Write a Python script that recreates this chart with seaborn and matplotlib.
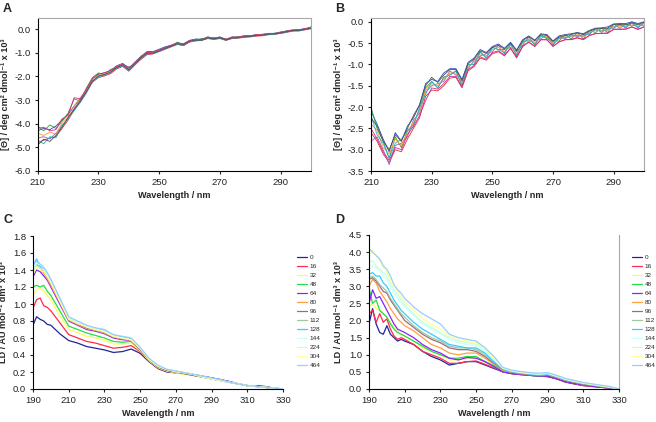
import matplotlib
matplotlib.use("Agg")
import matplotlib.pyplot as plt
import seaborn as sns
import pandas as pd

# ---------------- data ----------------
wl_ab = list(range(210, 301, 2))

A1 = [-4.30,-4.20,-4.25,-4.10,-3.85,-3.60,-3.25,-2.95,-2.55,-2.10,-1.90,-1.85,-1.75,-1.55,-1.45,-1.65,-1.40,-1.15,-0.95,-0.95,-0.85,-0.75,-0.68,-0.58,-0.62,-0.48,-0.42,-0.43,-0.33,-0.38,-0.33,-0.43,-0.33,-0.33,-0.28,-0.28,-0.23,-0.22,-0.18,-0.18,-0.12,-0.08,-0.03,-0.02,0.02,0.08]
A2 = [-4.80,-4.70,-4.60,-4.55,-4.20,-3.85,-3.40,-3.10,-2.70,-2.25,-2.05,-1.98,-1.88,-1.68,-1.58,-1.78,-1.52,-1.28,-1.08,-1.05,-0.95,-0.85,-0.75,-0.65,-0.70,-0.55,-0.50,-0.48,-0.40,-0.44,-0.40,-0.48,-0.40,-0.38,-0.35,-0.33,-0.30,-0.28,-0.24,-0.22,-0.18,-0.14,-0.08,-0.08,-0.03,0.02]
A3 = [-4.10,-4.30,-4.05,-4.20,-3.90,-3.55,-2.95,-3.05,-2.50,-2.05,-1.85,-1.95,-1.70,-1.65,-1.50,-1.60,-1.50,-1.15,-1.05,-0.95,-0.92,-0.78,-0.72,-0.55,-0.68,-0.47,-0.48,-0.40,-0.38,-0.37,-0.38,-0.42,-0.37,-0.32,-0.32,-0.27,-0.27,-0.22,-0.22,-0.17,-0.17,-0.07,-0.08,-0.02,-0.02,0.10]
A4 = [-4.60,-4.55,-4.65,-4.40,-4.10,-3.75,-3.35,-3.00,-2.65,-2.20,-2.00,-1.92,-1.85,-1.62,-1.55,-1.75,-1.48,-1.25,-1.02,-1.02,-0.92,-0.82,-0.72,-0.62,-0.66,-0.52,-0.46,-0.47,-0.36,-0.42,-0.36,-0.46,-0.37,-0.36,-0.31,-0.31,-0.26,-0.26,-0.21,-0.21,-0.16,-0.11,-0.06,-0.06,-0.01,0.04]
A5 = [-4.40,-4.50,-4.35,-4.45,-3.95,-3.70,-3.25,-2.90,-2.60,-2.10,-1.95,-1.88,-1.78,-1.58,-1.48,-1.72,-1.43,-1.18,-0.98,-1.00,-0.88,-0.80,-0.70,-0.60,-0.64,-0.50,-0.44,-0.45,-0.34,-0.40,-0.34,-0.45,-0.34,-0.35,-0.30,-0.30,-0.24,-0.25,-0.19,-0.20,-0.14,-0.10,-0.04,-0.05,0.01,0.05]
A6 = [-4.70,-4.85,-4.55,-4.60,-4.05,-3.80,-3.45,-3.10,-2.70,-2.20,-2.02,-1.95,-1.82,-1.64,-1.55,-1.74,-1.50,-1.25,-1.05,-1.02,-0.94,-0.83,-0.73,-0.63,-0.68,-0.53,-0.47,-0.47,-0.38,-0.42,-0.37,-0.47,-0.37,-0.37,-0.33,-0.32,-0.27,-0.27,-0.22,-0.22,-0.17,-0.12,-0.07,-0.07,-0.02,0.02]
A7 = [-4.20,-4.15,-4.30,-4.25,-3.80,-3.65,-2.90,-2.95,-2.55,-2.10,-1.90,-1.85,-1.75,-1.58,-1.48,-1.66,-1.42,-1.18,-0.98,-0.98,-0.88,-0.78,-0.68,-0.58,-0.63,-0.49,-0.43,-0.44,-0.34,-0.39,-0.34,-0.44,-0.34,-0.34,-0.29,-0.29,-0.24,-0.24,-0.19,-0.19,-0.14,-0.09,-0.04,-0.04,0.02,0.06]
A8 = [-4.90,-4.65,-4.75,-4.50,-4.15,-3.75,-3.40,-3.05,-2.65,-2.20,-1.98,-1.92,-1.82,-1.62,-1.52,-1.72,-1.47,-1.22,-1.02,-1.02,-0.92,-0.82,-0.72,-0.62,-0.67,-0.52,-0.47,-0.47,-0.37,-0.41,-0.37,-0.46,-0.37,-0.37,-0.32,-0.31,-0.26,-0.26,-0.21,-0.21,-0.16,-0.11,-0.06,-0.06,-0.01,0.03]

B1 = [-2.10,-2.40,-2.75,-3.05,-2.60,-2.80,-2.45,-2.25,-1.95,-1.45,-1.35,-1.40,-1.20,-1.10,-1.10,-1.35,-0.95,-0.85,-0.65,-0.72,-0.58,-0.52,-0.62,-0.48,-0.66,-0.42,-0.33,-0.43,-0.28,-0.30,-0.45,-0.33,-0.30,-0.28,-0.25,-0.28,-0.20,-0.15,-0.14,-0.12,-0.05,-0.04,-0.04,0.00,-0.04,0.00]
B2 = [-2.60,-2.80,-3.10,-3.30,-3.00,-3.05,-2.75,-2.50,-2.25,-1.75,-1.60,-1.62,-1.50,-1.32,-1.30,-1.55,-1.15,-1.05,-0.85,-0.90,-0.75,-0.70,-0.80,-0.62,-0.85,-0.58,-0.48,-0.58,-0.42,-0.42,-0.58,-0.47,-0.42,-0.42,-0.38,-0.42,-0.32,-0.28,-0.27,-0.27,-0.18,-0.18,-0.17,-0.12,-0.18,-0.12]
B3 = [-2.00,-2.50,-2.80,-3.20,-2.70,-2.95,-2.55,-2.40,-2.05,-1.55,-1.40,-1.55,-1.30,-1.25,-1.15,-1.50,-1.00,-1.00,-0.70,-0.85,-0.60,-0.65,-0.65,-0.60,-0.70,-0.55,-0.35,-0.55,-0.30,-0.40,-0.45,-0.45,-0.30,-0.40,-0.25,-0.40,-0.20,-0.25,-0.15,-0.25,-0.05,-0.15,-0.05,-0.10,-0.05,-0.10]
B4 = [-2.80,-2.70,-3.00,-3.35,-2.90,-2.85,-2.70,-2.30,-2.15,-1.65,-1.50,-1.45,-1.40,-1.15,-1.25,-1.40,-1.10,-0.90,-0.80,-0.75,-0.70,-0.55,-0.75,-0.50,-0.80,-0.45,-0.45,-0.45,-0.40,-0.30,-0.55,-0.35,-0.40,-0.30,-0.35,-0.30,-0.30,-0.15,-0.25,-0.15,-0.15,-0.05,-0.15,0.00,-0.15,0.00]
B5 = [-2.40,-2.55,-2.95,-3.10,-2.75,-2.90,-2.60,-2.35,-2.10,-1.60,-1.45,-1.50,-1.35,-1.20,-1.20,-1.45,-1.05,-0.95,-0.75,-0.80,-0.65,-0.60,-0.70,-0.55,-0.75,-0.50,-0.40,-0.50,-0.35,-0.35,-0.50,-0.40,-0.35,-0.35,-0.30,-0.35,-0.25,-0.20,-0.20,-0.20,-0.10,-0.10,-0.10,-0.05,-0.10,-0.05]
B6 = [-2.20,-2.65,-2.85,-3.20,-2.85,-2.75,-2.55,-2.45,-2.00,-1.70,-1.40,-1.55,-1.30,-1.25,-1.15,-1.50,-1.00,-1.00,-0.70,-0.85,-0.60,-0.65,-0.72,-0.52,-0.78,-0.47,-0.42,-0.52,-0.33,-0.37,-0.52,-0.38,-0.37,-0.33,-0.32,-0.33,-0.27,-0.18,-0.22,-0.18,-0.12,-0.08,-0.12,-0.03,-0.12,-0.03]
B7 = [-2.50,-2.75,-3.05,-3.25,-2.95,-3.00,-2.65,-2.45,-2.20,-1.85,-1.55,-1.58,-1.45,-1.28,-1.28,-1.52,-1.12,-1.02,-0.82,-0.88,-0.72,-0.68,-0.78,-0.62,-0.82,-0.57,-0.47,-0.57,-0.42,-0.42,-0.57,-0.47,-0.42,-0.41,-0.37,-0.41,-0.32,-0.27,-0.27,-0.26,-0.17,-0.17,-0.17,-0.12,-0.17,-0.12]
B8 = [-2.25,-2.45,-2.80,-3.00,-2.65,-2.80,-2.50,-2.20,-1.95,-1.50,-1.30,-1.42,-1.25,-1.12,-1.12,-1.38,-0.98,-0.88,-0.68,-0.74,-0.60,-0.55,-0.64,-0.50,-0.68,-0.44,-0.35,-0.44,-0.30,-0.32,-0.46,-0.36,-0.32,-0.30,-0.26,-0.30,-0.22,-0.16,-0.16,-0.15,-0.06,-0.06,-0.07,-0.02,-0.06,-0.01]

wl_c = [190,192,194,196,198,200,205,210,215,220,225,230,235,240,245,250,255,260,265,270,275,280,285,290,295,300,305,310,315,320,325,330]
C0   = [0.75,0.85,0.82,0.80,0.76,0.75,0.65,0.57,0.54,0.50,0.48,0.46,0.43,0.44,0.47,0.42,0.32,0.24,0.20,0.19,0.18,0.17,0.15,0.13,0.11,0.08,0.06,0.04,0.04,0.03,0.01,0.0]
C16  = [0.95,1.05,1.07,0.98,0.96,0.92,0.78,0.64,0.60,0.56,0.54,0.51,0.48,0.49,0.51,0.44,0.33,0.25,0.21,0.19,0.18,0.16,0.14,0.12,0.10,0.08,0.06,0.04,0.03,0.02,0.01,0.0]
C32  = [1.10,1.17,1.18,1.15,1.10,1.05,0.86,0.70,0.66,0.62,0.60,0.57,0.53,0.53,0.54,0.45,0.33,0.25,0.21,0.19,0.17,0.16,0.14,0.12,0.10,0.08,0.06,0.04,0.03,0.02,0.01,0.0]
C48  = [1.20,1.22,1.20,1.22,1.15,1.10,0.92,0.74,0.70,0.66,0.63,0.60,0.56,0.55,0.56,0.46,0.34,0.26,0.22,0.20,0.18,0.16,0.14,0.12,0.10,0.08,0.06,0.04,0.03,0.02,0.01,0.0]
C64  = [1.32,1.40,1.38,1.33,1.28,1.20,1.00,0.80,0.75,0.70,0.68,0.65,0.60,0.58,0.57,0.47,0.34,0.26,0.22,0.20,0.19,0.17,0.15,0.13,0.11,0.09,0.06,0.04,0.03,0.02,0.01,0.0]
C80  = [1.38,1.44,1.42,1.36,1.30,1.22,1.02,0.81,0.76,0.71,0.69,0.66,0.61,0.59,0.57,0.47,0.34,0.26,0.22,0.20,0.18,0.16,0.14,0.12,0.10,0.08,0.06,0.04,0.03,0.02,0.01,0.0]
C96  = [1.40,1.46,1.44,1.38,1.32,1.25,1.04,0.82,0.77,0.72,0.70,0.67,0.62,0.60,0.58,0.48,0.35,0.27,0.22,0.20,0.18,0.16,0.14,0.12,0.10,0.08,0.06,0.04,0.03,0.02,0.01,0.0]
C112 = [1.42,1.47,1.44,1.40,1.33,1.25,1.05,0.83,0.78,0.73,0.70,0.68,0.62,0.60,0.58,0.48,0.35,0.27,0.23,0.21,0.19,0.17,0.15,0.12,0.10,0.08,0.06,0.04,0.03,0.02,0.01,0.0]
C128 = [1.45,1.53,1.45,1.42,1.36,1.28,1.06,0.84,0.79,0.74,0.71,0.69,0.63,0.61,0.59,0.48,0.35,0.27,0.23,0.21,0.19,0.17,0.15,0.13,0.11,0.08,0.06,0.04,0.03,0.02,0.01,0.0]
C144 = [1.40,1.48,1.46,1.42,1.35,1.27,1.05,0.84,0.79,0.74,0.71,0.68,0.63,0.60,0.58,0.48,0.35,0.27,0.23,0.21,0.19,0.17,0.14,0.12,0.10,0.08,0.06,0.04,0.03,0.02,0.01,0.0]
C224 = [1.38,1.45,1.42,1.40,1.34,1.26,1.04,0.83,0.78,0.73,0.70,0.68,0.62,0.60,0.58,0.48,0.35,0.27,0.23,0.21,0.19,0.17,0.15,0.12,0.10,0.08,0.06,0.04,0.03,0.02,0.01,0.0]
C304 = [1.35,1.43,1.40,1.38,1.32,1.25,1.03,0.82,0.77,0.73,0.70,0.67,0.62,0.60,0.58,0.48,0.35,0.27,0.23,0.20,0.19,0.17,0.14,0.12,0.10,0.08,0.06,0.04,0.03,0.02,0.01,0.0]
C464 = [1.48,1.50,1.47,1.43,1.37,1.29,1.07,0.85,0.80,0.75,0.72,0.70,0.64,0.62,0.60,0.49,0.36,0.28,0.23,0.21,0.19,0.17,0.15,0.13,0.11,0.08,0.06,0.04,0.03,0.02,0.01,0.0]

wl_d = [190,192,194,196,198,200,202,204,206,208,210,215,220,225,230,235,240,245,250,255,260,265,270,275,280,285,290,295,300,305,310,315,320,325,330]
D0   = [1.90,2.35,1.90,1.65,1.60,1.85,1.60,1.50,1.40,1.45,1.40,1.30,1.10,0.95,0.85,0.70,0.75,0.80,0.80,0.70,0.60,0.50,0.45,0.42,0.40,0.38,0.36,0.30,0.20,0.15,0.10,0.08,0.05,0.03,0.0]
D16  = [2.20,2.30,1.95,2.20,1.95,2.05,1.75,1.55,1.45,1.50,1.45,1.30,1.10,1.00,0.90,0.75,0.75,0.80,0.82,0.72,0.62,0.50,0.45,0.42,0.40,0.38,0.37,0.30,0.21,0.15,0.10,0.07,0.05,0.02,0.0]
D32  = [2.40,2.50,2.35,2.30,2.20,2.10,1.95,1.80,1.70,1.60,1.55,1.40,1.20,1.10,1.00,0.85,0.85,0.90,0.90,0.78,0.65,0.52,0.47,0.44,0.42,0.40,0.40,0.33,0.24,0.19,0.13,0.10,0.07,0.04,0.0]
D48  = [2.95,2.50,2.60,2.30,2.20,2.10,1.90,1.75,1.65,1.60,1.55,1.40,1.25,1.10,1.00,0.90,0.90,0.95,0.95,0.80,0.68,0.55,0.48,0.44,0.40,0.37,0.40,0.32,0.22,0.17,0.12,0.09,0.06,0.03,0.0]
D64  = [2.50,2.90,2.65,2.70,2.50,2.30,2.10,1.90,1.75,1.70,1.65,1.50,1.30,1.15,1.05,0.90,0.85,0.92,0.90,0.80,0.65,0.50,0.45,0.43,0.40,0.38,0.38,0.30,0.22,0.16,0.12,0.08,0.05,0.03,0.0]
D80  = [3.00,3.20,3.10,2.85,2.70,2.55,2.35,2.20,2.05,1.95,1.85,1.70,1.50,1.30,1.20,1.05,1.00,1.05,1.05,0.90,0.72,0.56,0.49,0.45,0.42,0.40,0.42,0.34,0.25,0.20,0.14,0.11,0.07,0.04,0.0]
D96  = [3.20,3.25,3.15,3.00,2.85,2.80,2.60,2.45,2.30,2.15,2.00,1.80,1.60,1.45,1.35,1.20,1.15,1.15,1.10,0.95,0.75,0.57,0.50,0.46,0.43,0.41,0.45,0.35,0.26,0.21,0.15,0.12,0.08,0.05,0.0]
D112 = [3.25,3.30,3.20,3.05,2.95,2.85,2.65,2.50,2.35,2.20,2.10,1.85,1.65,1.50,1.40,1.25,1.20,1.20,1.15,1.00,0.78,0.58,0.50,0.46,0.44,0.42,0.44,0.36,0.27,0.21,0.16,0.12,0.08,0.05,0.0]
D128 = [3.35,3.40,3.30,3.30,3.10,3.00,2.80,2.60,2.45,2.30,2.20,1.95,1.75,1.60,1.45,1.30,1.25,1.20,1.20,1.05,0.80,0.58,0.51,0.47,0.44,0.42,0.43,0.36,0.27,0.22,0.16,0.13,0.09,0.05,0.0]
D144 = [3.50,3.60,3.55,3.45,3.30,3.20,3.00,2.80,2.65,2.50,2.40,2.15,1.90,1.75,1.60,1.45,1.35,1.30,1.25,1.10,0.85,0.60,0.52,0.48,0.45,0.43,0.45,0.37,0.28,0.22,0.17,0.13,0.09,0.05,0.0]
D224 = [3.70,3.75,3.60,3.50,3.40,3.30,3.10,2.90,2.75,2.60,2.45,2.20,1.95,1.80,1.65,1.50,1.40,1.35,1.30,1.15,0.90,0.61,0.53,0.49,0.46,0.44,0.46,0.38,0.29,0.23,0.17,0.14,0.10,0.06,0.0]
D304 = [3.90,4.05,3.90,3.75,3.55,3.40,3.20,3.00,2.85,2.70,2.55,2.30,2.05,1.90,1.75,1.55,1.45,1.40,1.35,1.15,0.90,0.62,0.54,0.50,0.47,0.45,0.47,0.39,0.30,0.24,0.18,0.14,0.10,0.06,0.0]
D464 = [4.10,4.00,3.90,3.80,3.60,3.50,3.30,3.05,2.90,2.80,2.65,2.40,2.20,2.05,1.90,1.60,1.50,1.45,1.40,1.20,0.95,0.63,0.55,0.51,0.48,0.46,0.48,0.40,0.31,0.25,0.19,0.15,0.11,0.07,0.0]

ld_labels = ["0", "16", "32", "48", "64", "80", "96", "112", "128", "144", "224", "304", "464"]
ld_colors = ["#22229a", "#ff2a4a", "#fbfb60", "#22dd44", "#8a22ff", "#ffa040",
             "#a06a7a", "#a0c8a0", "#33ccff", "#c8ffff", "#c8ffd8", "#ffff9a", "#99ccff"]
cd_colors = ["#2a40c0", "#e02a3a", "#30a030", "#9460c0", "#ff9a30", "#20b8c8", "#d02890", "#505050"]

# ---------------- style ----------------
sns.set_theme(style="white")
plt.rcParams["font.family"] = ["Liberation Sans", "DejaVu Sans"]
plt.rcParams["axes.linewidth"] = 0.8

fig = plt.figure(figsize=(6.56, 4.22), dpi=100)
W, H = 656, 422
def add_ax(l, r, t, b):
    return fig.add_axes([l / W, 1 - b / H, (r - l) / W, (b - t) / H])

axA = add_ax(37.7, 311, 18, 171)
axB = add_ax(371, 644, 18, 171)
axC = add_ax(33, 283, 236, 389)
axD = add_ax(369, 619, 235, 389)


def long_df(x, series, names):
    rows = []
    for nm, ys in zip(names, series):
        for xx, yy in zip(x, ys):
            rows.append((xx, yy, nm))
    return pd.DataFrame(rows, columns=["wl", "val", "series"])

dfA = long_df(wl_ab, [A1, A2, A3, A4, A5, A6, A7, A8], [f"a{i}" for i in range(8)])
dfB = long_df(wl_ab, [B1, B2, B3, B4, B5, B6, B7, B8], [f"b{i}" for i in range(8)])
dfC = long_df(wl_c, [C0, C16, C32, C48, C64, C80, C96, C112, C128, C144, C224, C304, C464], ld_labels)
dfD = long_df(wl_d, [D0, D16, D32, D48, D64, D80, D96, D112, D128, D144, D224, D304, D464], ld_labels)

sns.lineplot(data=dfA, x="wl", y="val", hue="series", palette=cd_colors, estimator=None,
             linewidth=0.6, legend=False, ax=axA)
sns.lineplot(data=dfB, x="wl", y="val", hue="series", palette=cd_colors, estimator=None,
             linewidth=0.6, legend=False, ax=axB)
sns.lineplot(data=dfC, x="wl", y="val", hue="series", palette=ld_colors, estimator=None,
             linewidth=0.9, legend=True, ax=axC)
sns.lineplot(data=dfD, x="wl", y="val", hue="series", palette=ld_colors, estimator=None,
             linewidth=0.9, legend=True, ax=axD)

ylab_cd = "[Θ] / deg cm² dmol⁻¹ x 10³"
ylab_ld = "LD / AU mol⁻¹ dm³ x 10³"
lab_kw = dict(fontsize=6.6, fontweight="bold")

for ax in (axA, axB):
    ax.set_xlim(210, 300)
    ax.set_xticks([210, 230, 250, 270, 290])
    ax.set_xlabel("Wavelength / nm", labelpad=3, **lab_kw)
    ax.set_ylabel(ylab_cd, **lab_kw)
    for s in ("top", "right"):
        ax.spines[s].set_color("#a8a8a8")
axA.set_ylim(-6.0, 0.47)
axA.set_yticks([-6, -5, -4, -3, -2, -1, 0])
axA.set_yticklabels([f"{v:.1f}" for v in [-6, -5, -4, -3, -2, -1, 0]])
axB.set_ylim(-3.5, 0.09)
bt = [-3.5, -3.0, -2.5, -2.0, -1.5, -1.0, -0.5, 0.0]
axB.set_yticks(bt)
axB.set_yticklabels([f"{v:.1f}" for v in bt])

for ax in (axC, axD):
    ax.set_xlim(190, 330)
    ax.set_xticks(list(range(190, 331, 20)))
    ax.set_xlabel("Wavelength / nm", labelpad=3, **lab_kw)
    ax.set_ylabel(ylab_ld, **lab_kw)
    ax.spines["top"].set_visible(False)
axC.spines["right"].set_visible(False)
axD.spines["right"].set_color("#a8a8a8")
axC.set_ylim(0, 1.8)
ct = [0.0, 0.2, 0.4, 0.6, 0.8, 1.0, 1.2, 1.4, 1.6, 1.8]
axC.set_yticks(ct)
axC.set_yticklabels([f"{v:.1f}" for v in ct])
axD.set_ylim(0, 4.5)
dt = [0.0, 0.5, 1.0, 1.5, 2.0, 2.5, 3.0, 3.5, 4.0, 4.5]
axD.set_yticks(dt)
axD.set_yticklabels([f"{v:.1f}" for v in dt])

# y-label centres (px from left of figure), as in the reference
for ax, lx, l0, w in ((axA, 10, 37.7, 273.3), (axB, 343, 371, 273), (axC, 8, 33, 250), (axD, 343, 369, 250)):
    ax.yaxis.set_label_coords((lx - l0) / w, 0.5)

for ax in (axA, axB, axC, axD):
    ax.tick_params(axis="both", labelsize=6.8, length=2.5, width=0.8, direction="out",
                   pad=2.5, colors="#222222", bottom=True, left=True)
    ax.spines["left"].set_color("black")
    ax.spines["bottom"].set_color("black")
    ax.grid(False)

for ax, x0 in ((axC, 297), (axD, 632)):
    h, l = ax.get_legend_handles_labels()
    ax.legend(h, l, loc="upper left", bbox_to_anchor=(x0 / W, 1 - 255 / H),
              bbox_transform=fig.transFigure, frameon=False, fontsize=4.6,
              handlelength=1.6, handletextpad=0.4, labelspacing=0.55, borderpad=0,
              borderaxespad=0)

for txt, x, y in (("A", 3, 3), ("B", 335, 3), ("C", 3, 214), ("D", 335, 214)):
    fig.text(x / W, 1 - y / H, txt, fontsize=9, fontweight="bold", va="top", ha="left")

fig.savefig("out.png", dpi=100)
